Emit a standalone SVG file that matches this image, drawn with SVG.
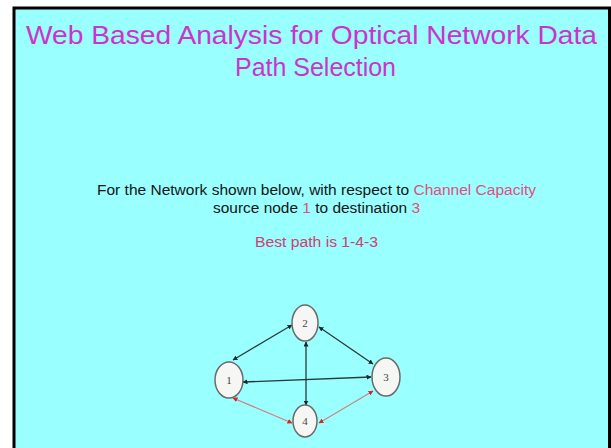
<svg xmlns="http://www.w3.org/2000/svg" width="611" height="448" viewBox="0 0 611 448">
<defs>
<style>
.title{font-family:"Liberation Sans",Arial,sans-serif;font-size:25px;fill:#cc33cc;text-anchor:middle}
.body{font-family:"Liberation Sans",Arial,sans-serif;font-size:14px;fill:#151515;text-anchor:middle}
.hl{fill:#e05080}
.node ellipse{fill:#f6f6f4;stroke:#6a6a6a;stroke-width:1.5}
.node text{font-family:"Liberation Serif","Times New Roman",serif;font-size:11px;fill:#444;text-anchor:middle}
.edge{stroke:#2a3a3a;stroke-width:1.3;fill:none;marker-start:url(#ab);marker-end:url(#ab)}
.redge{stroke:#d08080;stroke-width:1.2;fill:none;marker-start:url(#ar);marker-end:url(#ar)}
</style>
<marker id="ab" viewBox="0 0 10 10" refX="9" refY="5" markerWidth="5" markerHeight="5" orient="auto-start-reverse" markerUnits="userSpaceOnUse"><path d="M0,0L10,5L0,10z" fill="#1a2a2a"/></marker>
<marker id="ar" viewBox="0 0 10 10" refX="9" refY="5" markerWidth="5" markerHeight="5" orient="auto-start-reverse" markerUnits="userSpaceOnUse"><path d="M0,0L10,5L0,10z" fill="#dd2222"/></marker>
</defs>
<rect width="611" height="448" fill="#ffffff"/>
<rect x="15" y="9" width="593" height="439" fill="#99ffff"/>
<path d="M14,448V8H609.5V448" fill="none" stroke="#000" stroke-width="3"/>
<text class="title" x="311.5" y="44" textLength="571" lengthAdjust="spacingAndGlyphs">Web Based Analysis for Optical Network Data</text>
<text class="title" x="315.5" y="76" textLength="161" lengthAdjust="spacingAndGlyphs">Path Selection</text>
<text class="body" x="316.5" y="195" textLength="439" lengthAdjust="spacingAndGlyphs">For the Network shown below, with respect to <tspan class="hl">Channel Capacity</tspan></text>
<text class="body" x="316.5" y="213" textLength="207" lengthAdjust="spacingAndGlyphs">source node <tspan class="hl">1</tspan> to destination <tspan class="hl">3</tspan></text>
<text class="body" x="316.5" y="247" textLength="123" lengthAdjust="spacingAndGlyphs" style="fill:#d0406e">Best path is 1-4-3</text>
<g id="connectors">
<line class="edge" x1="292" y1="325" x2="233" y2="360"/>
<line class="edge" x1="319" y1="327" x2="373" y2="364"/>
<line class="edge" x1="243" y1="382" x2="371" y2="377"/>
<line class="edge" x1="306" y1="342" x2="306" y2="405"/>
<line class="redge" x1="233" y1="398" x2="292" y2="423"/>
<line class="redge" x1="373" y1="391" x2="319" y2="423"/>
</g>
<g id="node1" class="node"><ellipse cx="229" cy="380" rx="14" ry="18"/><text x="229" y="384">1</text></g>
<g id="node2" class="node"><ellipse cx="305" cy="323" rx="13" ry="18"/><text x="305" y="327">2</text></g>
<g id="node3" class="node"><ellipse cx="386" cy="377" rx="14" ry="19"/><text x="386" y="381">3</text></g>
<g id="node4" class="node"><ellipse cx="305" cy="421" rx="12" ry="16"/><text x="305" y="425">4</text></g>
</svg>
